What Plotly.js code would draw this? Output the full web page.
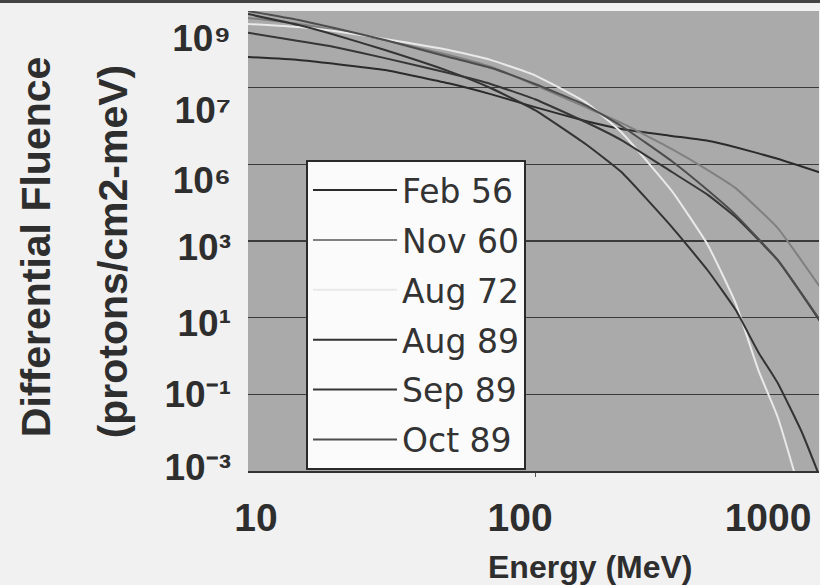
<!DOCTYPE html>
<html>
<head>
<meta charset="utf-8">
<script src="https://cdn.plot.ly/plotly-3.0.1.min.js"></script>
<style>html,body{margin:0;padding:0;background:#f1f1f1;}#chart{width:820px;height:585px;}</style>
</head>
<body>
<div id="chart"></div>
<script>
// ---- data ----
const seriesNames = ["Feb 56", "Nov 60", "Aug 72", "Aug 89", "Sep 89", "Oct 89"];
const energyGrid = [10, 15, 20, 30, 50, 70, 100, 150, 200, 300, 400, 500, 700, 1000];
const energyAug72 = [10, 15, 20, 30, 50, 70, 100, 150, 200, 300, 400, 500, 600, 700, 800, 900];
const energyAug89 = [10, 15, 20, 30, 50, 70, 100, 150, 200, 300, 400, 500, 600, 700, 850, 1000];
const fluenceFeb56 = [6.3e7, 5.3e7, 4.2e7, 2.9e7, 1.3e7, 6.8e6, 3.1e6, 1.35e6, 8.4e5, 5.5e5, 4.1e5, 2.8e5, 1.4e5, 5.9e4];
const fluenceNov60 = [6.6e8, 4.6e8, 3.2e8, 1.75e8, 7.1e7, 3.5e7, 1.17e7, 3.1e6, 1.2e6, 2.5e5, 7.1e4, 2.4e4, 2.2e3, 53];
const fluenceAug72 = [4.6e8, 3.8e8, 3.0e8, 1.86e8, 9.6e7, 5.3e7, 2.1e7, 4.2e6, 6.9e5, 2.0e4, 7.9e2, 24, 0.43, 0.026, 9.4e-4, 3.9e-5];
const fluenceAug89 = [8.3e8, 4.3e8, 2.4e8, 9.6e7, 2.7e7, 9.8e6, 2.6e6, 3.4e5, 6.3e4, 2.3e3, 1.7e2, 16, 1.26, 0.20, 0.0104, 5e-4];
const fluenceSep89 = [2.7e8, 1.65e8, 1.15e8, 5.9e7, 2.4e7, 1.25e7, 5.0e6, 1.27e6, 4.3e5, 6.3e4, 1.6e4, 4.2e3, 3.2e2, 6.8];
const fluenceOct89 = [1.0e9, 5.8e8, 3.6e8, 1.75e8, 6.3e7, 3.3e7, 1.25e7, 3.5e6, 1.0e6, 1.2e5, 2.1e4, 4.8e3, 3.2e2, 7.2];
const yTickLabels = ["10⁹", "10⁷", "10⁶", "10³", "10¹", "10⁻¹", "10⁻³"];
const xTickLabels = ["10", "100", "1000"];
const yTitleLines = ["Differential Fluence", "(protons/cm2-meV)"];
const xTitle = "Energy (MeV)";

// ---- layout / styling ----
const yLabelPos = [2.0e8, 2.6e6, 3.9e4, 6.9e2, 7.2, 0.10, 1.26e-3];
const xLabelPos = [10.66, 88.7, 648.6];
const lineColors = ["#2b2b2b", "#808080", "#e9e9e9", "#333333", "#363636", "#4d4d4d"];
const xs = [energyGrid, energyGrid, energyAug72, energyAug89, energyGrid, energyGrid];
const ys = [fluenceFeb56, fluenceNov60, fluenceAug72, fluenceAug89, fluenceSep89, fluenceOct89];

// first series on the gridline axes (x/y), the rest on the labelled overlay axes (x2/y2) - same ranges
const traces = seriesNames.map((n, i) => ({
  type: "scatter", mode: "lines", name: n,
  x: xs[i], y: ys[i],
  xaxis: i === 0 ? "x" : "x2", yaxis: i === 0 ? "y" : "y2",
  legendgroup: "g" + i,
  line: {color: lineColors[i], width: 2, shape: "spline", smoothing: 0.4}
}));

const boldFont = (size) => ({family: "Liberation Sans, Arial, sans-serif", size: size, color: "#2e2e2e", weight: "bold"});

const layout = {
  width: 820, height: 585,
  margin: {l: 248, r: 1, t: 11, b: 114},
  paper_bgcolor: "#f1f1f1",
  plot_bgcolor: "#aaaaaa",
  showlegend: true,
  legend: {
    x: 0.1016, y: 0.676, xanchor: "left", yanchor: "top",
    bgcolor: "#fbfbfb", bordercolor: "#2a2a2a", borderwidth: 2,
    font: {family: "DejaVu Sans, sans-serif", size: 33, color: "#333"},
    tracegroupgap: 4, itemwidth: 84, traceorder: "grouped"
  },
  xaxis: {
    type: "log", range: [1, 2.9895],
    showgrid: false, zeroline: false,
    showline: true, linecolor: "#333", linewidth: 2,
    tickvals: [100], ticks: "outside", ticklen: 4, tickcolor: "#555",
    showticklabels: false
  },
  xaxis2: {
    type: "log", range: [1, 2.9895], overlaying: "x", anchor: "y2", side: "bottom",
    showgrid: false, zeroline: false, showline: false, ticks: "",
    tickvals: xLabelPos, ticktext: xTickLabels, tickfont: boldFont(39),
    ticklabelstandoff: 20
  },
  yaxis: {
    type: "log", range: [-3, 9],
    tickvals: [1e-1, 1e1, 1e3, 1e5, 1e7],
    showgrid: true, gridcolor: "#3a3a3a", gridwidth: 1.5,
    showticklabels: false, ticks: "", zeroline: false, showline: false
  },
  yaxis2: {
    type: "log", range: [-3, 9], overlaying: "y", anchor: "x2", side: "left",
    showgrid: false, zeroline: false, showline: false, ticks: "",
    tickvals: yLabelPos, ticktext: yTickLabels, tickfont: boldFont(37),
    ticklabelstandoff: 16
  },
  shapes: [
    {type: "rect", xref: "paper", yref: "paper", x0: -0.5, x1: 1.01, y0: 1.0174, y1: 1.03, fillcolor: "#444", line: {width: 0}, layer: "above"}
  ],
  annotations: [
    {text: yTitleLines[0], xref: "paper", yref: "paper", x: -0.371, y: 0.487, xanchor: "center", yanchor: "middle",
     textangle: -90, showarrow: false, font: boldFont(41)},
    {text: yTitleLines[1], xref: "paper", yref: "paper", x: -0.236, y: 0.478, xanchor: "center", yanchor: "middle",
     textangle: -90, showarrow: false, font: boldFont(41)},
    {text: xTitle, xref: "paper", yref: "paper", x: 0.599, y: -0.209, xanchor: "center", yanchor: "middle",
     showarrow: false, font: boldFont(32)}
  ]
};

Plotly.newPlot("chart", traces, layout, {staticPlot: true, displayModeBar: false});
</script>
</body>
</html>
